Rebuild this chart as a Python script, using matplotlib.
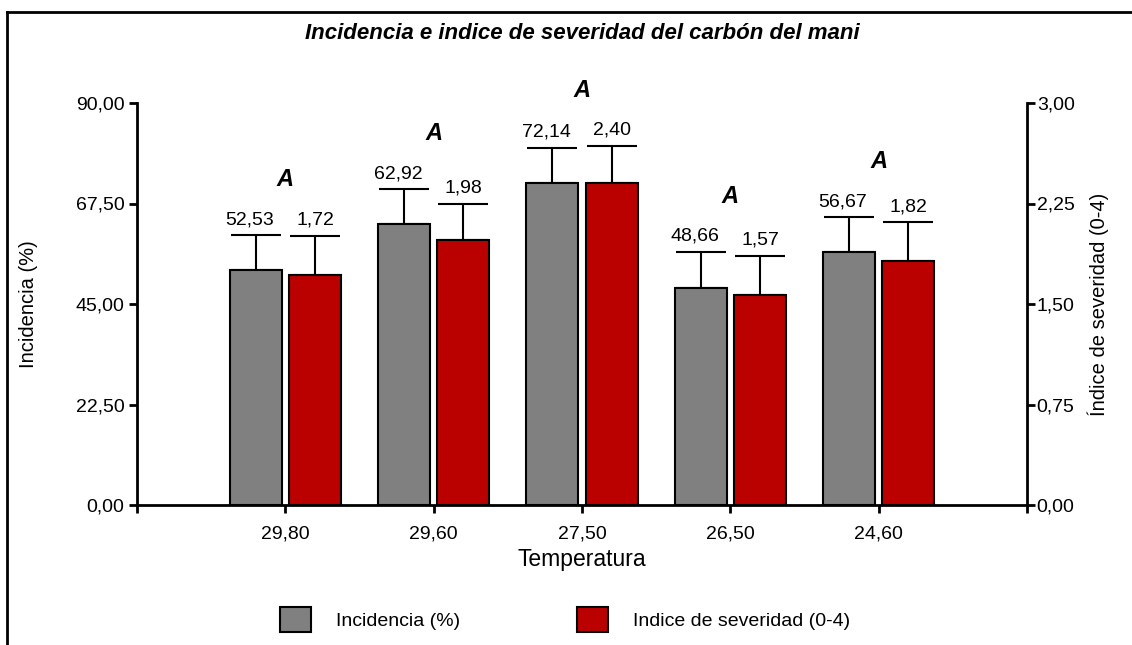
import matplotlib
matplotlib.use("Agg")
import matplotlib.pyplot as plt
from matplotlib.lines import Line2D
import numpy as np

plt.rcParams['font.family'] = ['Liberation Sans', 'DejaVu Sans']

# data
temperaturas = ["29,80", "29,60", "27,50", "26,50", "24,60"]
incidencia = [52.53, 62.92, 72.14, 48.66, 56.67]
incidencia_err = [7.9, 7.8, 7.8, 8.0, 7.7]
severidad = [1.72, 1.98, 2.40, 1.57, 1.82]
severidad_err = [0.29, 0.27, 0.28, 0.29, 0.29]
letras = ["A", "A", "A", "A", "A"]

gris = "#808080"
rojo = "#BB0000"

def coma(v):
    return f"{v:.2f}".replace(".", ",")

fig = plt.figure(figsize=(11.32, 6.45), dpi=100)
ax = fig.add_axes([137/1132, 1-505/645, 890/1132, 402/645])
ax2 = ax.twinx()

x = np.arange(len(temperaturas))
w = 0.35
off = 0.2

ax.bar(x - off, incidencia, w, color=gris, edgecolor="black", linewidth=1.5, zorder=3, label="Incidencia (%)")
ax.errorbar(x - off, incidencia, yerr=[np.zeros(len(x)), incidencia_err], fmt="none",
            ecolor="black", elinewidth=1.5, capsize=18, capthick=1.5, zorder=2)
ax2.bar(x + off, severidad, w, color=rojo, edgecolor="black", linewidth=1.5, zorder=3, label="Indice de severidad (0-4)")
ax2.errorbar(x + off, severidad, yerr=[np.zeros(len(x)), severidad_err], fmt="none",
             ecolor="black", elinewidth=1.5, capsize=18, capthick=1.5, zorder=2)

ax.set_xlim(-1, 5)
ax.set_ylim(0, 90)
ax2.set_ylim(0, 3)

# value labels above error caps, letters above each pair
for i in range(len(x)):
    ax.annotate(coma(incidencia[i]), (x[i] - off - 0.04, incidencia[i] + incidencia_err[i]),
                xytext=(0, 5), textcoords="offset points", ha="center", va="bottom", fontsize=14)
    ax2.annotate(coma(severidad[i]), (x[i] + off, severidad[i] + severidad_err[i]),
                 xytext=(0, 5), textcoords="offset points", ha="center", va="bottom", fontsize=14)
    top = max(incidencia[i] + incidencia_err[i], (severidad[i] + severidad_err[i]) * 30)
    ax.text(x[i], top + 12.5, letras[i], ha="center", va="center", fontsize=17,
            fontweight="bold", fontstyle="italic", clip_on=False)

ax.set_yticks([0, 22.5, 45, 67.5, 90])
ax.set_yticklabels([coma(v) for v in [0, 22.5, 45, 67.5, 90]], fontsize=14)
ax2.set_yticks([0, 0.75, 1.5, 2.25, 3])
ax2.set_yticklabels([coma(v) for v in [0, 0.75, 1.5, 2.25, 3]], fontsize=14)
ax.set_xticks(x)
ax.set_xticklabels(temperaturas, fontsize=14)
ax.set_xticks([-1, 5], minor=True)

for a in (ax, ax2):
    a.tick_params(axis="both", which="both", direction="out", length=6, width=2, pad=3)
    a.spines["top"].set_visible(False)
    for s in a.spines.values():
        s.set_linewidth(2)
ax.tick_params(axis="x", which="major", pad=9)
ax2.tick_params(axis="y", pad=1)
ax.spines["right"].set_visible(False)
ax2.spines["left"].set_visible(False)
ax2.spines["bottom"].set_visible(False)

ax.set_xlabel("Temperatura", fontsize=16.5)
ax.xaxis.set_label_coords(0.5, -0.107)
ax.set_ylabel("Incidencia (%)", fontsize=14.5)
ax.yaxis.set_label_coords(-0.111, 0.5)
ax2.set_ylabel("Índice de severidad (0-4)", fontsize=14.5)
ax2.yaxis.set_label_coords(1.0685, 0.5)

ax.text(0.5, 1.172, "Incidencia e indice de severidad del carbón del mani", transform=ax.transAxes,
        ha="center", va="center", fontsize=16, fontweight="bold", fontstyle="italic")

h1, l1 = ax.get_legend_handles_labels()
h2, l2 = ax2.get_legend_handles_labels()
fig.legend(h1 + h2, l1 + l2, loc="center", bbox_to_anchor=(0.499, 0.039), ncol=2, frameon=False,
           fontsize=14, handlelength=1.6, handleheight=1.6, handletextpad=1.3, columnspacing=6)

# outer frame (left and top only)
fig.add_artist(Line2D([7/1132, 7/1132], [0, 1-12/645], color="black", linewidth=2, transform=fig.transFigure))
fig.add_artist(Line2D([7/1132, 1], [1-12/645, 1-12/645], color="black", linewidth=2, transform=fig.transFigure))

fig.savefig("out.png", dpi=100)
